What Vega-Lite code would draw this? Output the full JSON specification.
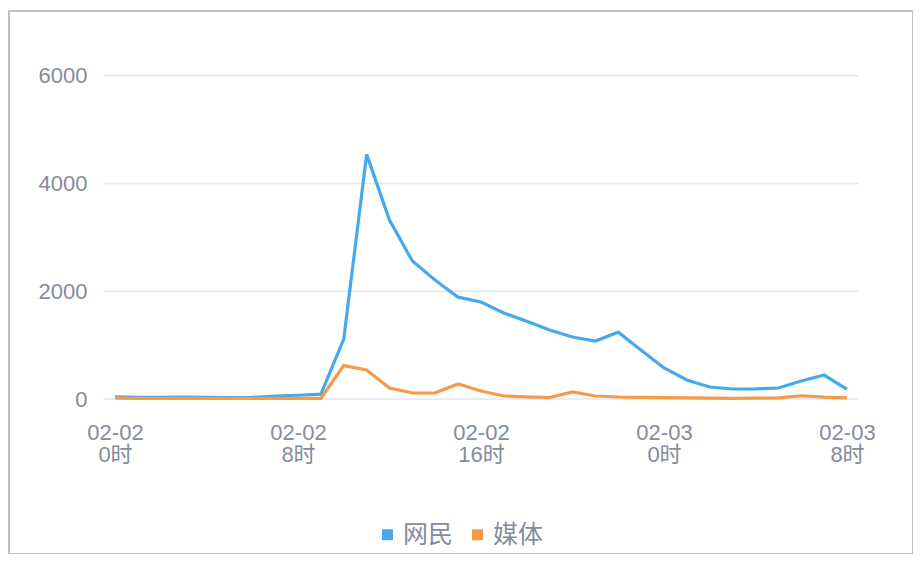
{
  "$schema": "https://vega.github.io/schema/vega-lite/v6.json",
  "autosize": "none",
  "padding": {"left": 9, "top": 11, "right": 0, "bottom": 0},
  "width": 904,
  "height": 543,
  "background": "white",
  "config": {
    "view": {"stroke": "#c0c0c0", "strokeWidth": 2},
    "font": "Liberation Sans, Noto Sans CJK SC",
    "axisX": {
      "orient": "bottom", "offset": -155,
      "labelExpr": "datum.value < 24 ? ['02-02', datum.value + '时'] : ['02-03', (datum.value - 24) + '时']",
      "domain": false, "ticks": false, "tickSize": 0, "grid": false,
      "labelPadding": 23, "labelFontSize": 22, "labelColor": "#868b9e",
      "labelLineHeight": 22, "labelAlign": "center", "labelFlush": false,
      "labelOverlap": false, "labelBound": false, "title": null
    },
    "axisY": {
      "orient": "left", "offset": -95, "format": "d",
      "domain": false, "ticks": false, "tickSize": 0, "grid": false,
      "labelPadding": 17, "labelFontSize": 22, "labelColor": "#868b9e",
      "labelFlush": false, "labelOverlap": false, "labelBound": false, "title": null
    }
  },
  "datasets": {
    "grid": [{"v": 0}, {"v": 2000}, {"v": 4000}, {"v": 6000}],
    "series": [
      {"hour": 0, "type": "网民", "value": 40},
      {"hour": 1, "type": "网民", "value": 30},
      {"hour": 2, "type": "网民", "value": 30},
      {"hour": 3, "type": "网民", "value": 35},
      {"hour": 4, "type": "网民", "value": 30},
      {"hour": 5, "type": "网民", "value": 25},
      {"hour": 6, "type": "网民", "value": 30},
      {"hour": 7, "type": "网民", "value": 55},
      {"hour": 8, "type": "网民", "value": 70},
      {"hour": 9, "type": "网民", "value": 90},
      {"hour": 10, "type": "网民", "value": 1110},
      {"hour": 11, "type": "网民", "value": 4540},
      {"hour": 12, "type": "网民", "value": 3320},
      {"hour": 13, "type": "网民", "value": 2560},
      {"hour": 14, "type": "网民", "value": 2205},
      {"hour": 15, "type": "网民", "value": 1890},
      {"hour": 16, "type": "网民", "value": 1800},
      {"hour": 17, "type": "网民", "value": 1595},
      {"hour": 18, "type": "网民", "value": 1445},
      {"hour": 19, "type": "网民", "value": 1280},
      {"hour": 20, "type": "网民", "value": 1150},
      {"hour": 21, "type": "网民", "value": 1075},
      {"hour": 22, "type": "网民", "value": 1240},
      {"hour": 23, "type": "网民", "value": 905},
      {"hour": 24, "type": "网民", "value": 575},
      {"hour": 25, "type": "网民", "value": 353},
      {"hour": 26, "type": "网民", "value": 223},
      {"hour": 27, "type": "网民", "value": 186},
      {"hour": 28, "type": "网民", "value": 188},
      {"hour": 29, "type": "网民", "value": 204},
      {"hour": 30, "type": "网民", "value": 334},
      {"hour": 31, "type": "网民", "value": 445},
      {"hour": 32, "type": "网民", "value": 180},
      {"hour": 0, "type": "媒体", "value": 15},
      {"hour": 1, "type": "媒体", "value": 10},
      {"hour": 2, "type": "媒体", "value": 10},
      {"hour": 3, "type": "媒体", "value": 10},
      {"hour": 4, "type": "媒体", "value": 10},
      {"hour": 5, "type": "媒体", "value": 10},
      {"hour": 6, "type": "媒体", "value": 10},
      {"hour": 7, "type": "媒体", "value": 10},
      {"hour": 8, "type": "媒体", "value": 10},
      {"hour": 9, "type": "媒体", "value": 10},
      {"hour": 10, "type": "媒体", "value": 620},
      {"hour": 11, "type": "媒体", "value": 538},
      {"hour": 12, "type": "媒体", "value": 204},
      {"hour": 13, "type": "媒体", "value": 111},
      {"hour": 14, "type": "媒体", "value": 115},
      {"hour": 15, "type": "媒体", "value": 278},
      {"hour": 16, "type": "媒体", "value": 148},
      {"hour": 17, "type": "媒体", "value": 56},
      {"hour": 18, "type": "媒体", "value": 40},
      {"hour": 19, "type": "媒体", "value": 28},
      {"hour": 20, "type": "媒体", "value": 130},
      {"hour": 21, "type": "媒体", "value": 56},
      {"hour": 22, "type": "媒体", "value": 37},
      {"hour": 23, "type": "媒体", "value": 30},
      {"hour": 24, "type": "媒体", "value": 25},
      {"hour": 25, "type": "媒体", "value": 20},
      {"hour": 26, "type": "媒体", "value": 15},
      {"hour": 27, "type": "媒体", "value": 10},
      {"hour": 28, "type": "媒体", "value": 15},
      {"hour": 29, "type": "媒体", "value": 20},
      {"hour": 30, "type": "媒体", "value": 60},
      {"hour": 31, "type": "媒体", "value": 35},
      {"hour": 32, "type": "媒体", "value": 20}
    ]
  },
  "layer": [
    {
      "data": {"name": "grid"},
      "mark": {"type": "rule", "color": "#e2e5f4", "strokeWidth": 1.5},
      "encoding": {
        "y": {"field": "v", "type": "quantitative",
              "scale": {"domain": [-2876.6, 7200.9], "nice": false, "zero": false},
              "axis": {"values": [0, 2000, 4000, 6000]}},
        "x": {"datum": -0.5, "type": "quantitative",
              "scale": {"domain": [-4.634, 34.885], "nice": false, "zero": false},
              "axis": {"values": [0, 8, 16, 24, 32]}},
        "x2": {"datum": 32.5}
      }
    },
    {
      "data": {"name": "series"},
      "mark": {"type": "line", "strokeWidth": 3.2},
      "encoding": {
        "x": {
          "field": "hour", "type": "quantitative",
          "scale": {"domain": [-4.634, 34.885], "nice": false, "zero": false},
          "axis": {"values": [0, 8, 16, 24, 32]}
        },
        "y": {
          "field": "value", "type": "quantitative",
          "scale": {"domain": [-2876.6, 7200.9], "nice": false, "zero": false},
          "axis": {"values": [0, 2000, 4000, 6000]}
        },
        "color": {
          "field": "type", "type": "nominal",
          "scale": {"domain": ["网民", "媒体"], "range": ["#47a9ec", "#f8994a"]},
          "legend": {
            "orient": "none", "legendX": 366, "legendY": 511, "direction": "horizontal",
            "title": null, "symbolType": "square", "symbolSize": 121,
            "labelFontSize": 25, "labelColor": "#868b9e", "labelOffset": 3,
            "columnPadding": 11,
            "encode": {"symbols": {"update": {"fill": {"scale": "color", "field": "value"}, "strokeWidth": {"value": 0}, "opacity": {"value": 1}}}}
          }
        }
      }
    }
  ]
}
